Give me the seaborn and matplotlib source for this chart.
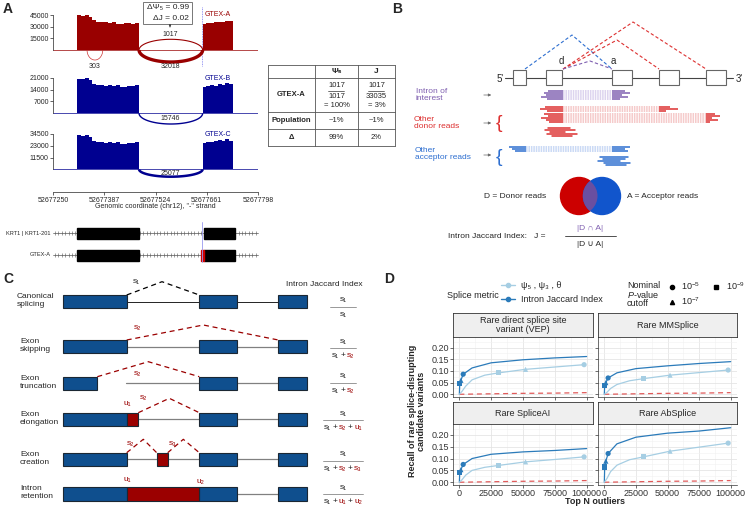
import numpy as np
import pandas as pd
import matplotlib
matplotlib.use("Agg")
import matplotlib.pyplot as plt
import seaborn as sns
from matplotlib.patches import Rectangle, Circle
from matplotlib.lines import Line2D

sns.set_theme(style="ticks")
plt.rcParams["font.family"] = ["Liberation Sans", "DejaVu Sans"]
plt.rcParams["mathtext.fontset"] = "custom"
plt.rcParams["mathtext.rm"] = "Liberation Sans"
plt.rcParams["mathtext.it"] = "Liberation Sans:italic"

# ---------------- data: panel A (sashimi of KRT1) ----------------
genome_ticks = [52677250, 52677387, 52677524, 52677661, 52677798]
exon1 = (52677314, 52677480)
exon2 = (52677650, 52677731)
cov_a_ex1 = [44500, 44000, 44500, 43000, 38000, 36000, 35500, 36000,
             35000, 36000, 34000, 33500, 34500, 35000, 33500, 34500]
cov_a_ex2 = [33500, 35000, 34500, 35500, 36000, 35500, 37500, 37000]
cov_b_ex1 = [20500, 20300, 20600, 19800, 17000, 16500, 16800, 16300,
             16800, 16200, 16600, 15800, 15600, 16200, 16000, 16500]
cov_b_ex2 = [15500, 16000, 16500, 16000, 17000, 16800, 18000, 17500]
cov_c_ex1 = [33500, 33000, 33800, 32000, 27500, 26500, 27000, 26000,
             26800, 25800, 26500, 25000, 24800, 25500, 26000, 27000]
cov_c_ex2 = [26000, 26500, 27000, 27500, 28500, 28000, 29500, 28000]
ticks_a = [15000, 30000, 45000]
ticks_b = [7000, 14000, 21000]
ticks_c = [11500, 23000, 34500]
junction_small = (52677341, 52677383)

# ---------------- data: panel D (recall curves) ----------------
facet_names = ["Rare direct splice site\nvariant (VEP)", "Rare MMSplice",
               "Rare SpliceAI", "Rare AbSplice"]
n_jaccard = [0, 300, 1200, 3000, 10000, 25000, 50000, 75000, 100000]
n_psi = [0, 2000, 5000, 10000, 20000, 31000, 52000, 75000, 98000]
jaccard_vep = [0, 0.045, 0.060, 0.086, 0.113, 0.135, 0.148, 0.156, 0.162]
jaccard_mmsplice = [0, 0.038, 0.050, 0.070, 0.092, 0.110, 0.122, 0.132, 0.140]
jaccard_spliceai = [0, 0.042, 0.053, 0.075, 0.100, 0.118, 0.128, 0.134, 0.142]
jaccard_absplice = [0, 0.064, 0.089, 0.121, 0.162, 0.190, 0.207, 0.216, 0.230]
psi_vep = [0, 0.012, 0.035, 0.062, 0.082, 0.092, 0.107, 0.117, 0.127]
psi_mmsplice = [0, 0.008, 0.025, 0.042, 0.058, 0.067, 0.082, 0.093, 0.104]
psi_spliceai = [0, 0.010, 0.030, 0.050, 0.063, 0.071, 0.086, 0.096, 0.107]
psi_absplice = [0, 0.015, 0.045, 0.072, 0.095, 0.107, 0.131, 0.148, 0.165]
n_background = [0, 25000, 50000, 75000, 100000]
recall_background = [0.0, 0.002, 0.004, 0.005, 0.007]
cutoffs = ["1e-9", "1e-7", "1e-5"]
jaccard_cut_idx = [1, 2, 3]
psi_cut_idx = [5, 6, 8]

W, H = 748, 508
fig = plt.figure(figsize=(W / 100, H / 100), dpi=100)


def pax(x0, y0, x1, y1):
    return fig.add_axes([x0 / W, 1 - y1 / H, (x1 - x0) / W, (y1 - y0) / H])


def T(x, y, s, **kw):
    kw.setdefault("ha", "center")
    kw.setdefault("va", "center")
    return fig.text(x / W, 1 - y / H, s, **kw)


def pieces(xc, y, parts, size):
    # text made of coloured bits, centred on xc
    r = fig.canvas.get_renderer()
    objs = [T(0, y, s, color=c, fontsize=size, ha="left") for s, c in parts]
    ws = [o.get_window_extent(r).width for o in objs]
    x = xc - (sum(ws) + 1.5 * (len(ws) - 1)) / 2
    for o, w in zip(objs, ws):
        o.set_x(x / W)
        x += w + 1.5


ov = pax(0, 0, W, H)
ov.set_xlim(0, W)
ov.set_ylim(H, 0)
ov.axis("off")

RED = "#990000"
NAVY = "#000090"

# ================= panel A =================
T(3, 9, "A", fontsize=10, fontweight="bold", ha="left")


def track(y0, y1, base_px, top_px, ticks, cov1, cov2, color):
    ax = pax(53, y0, 258, y1)
    s = ticks[-1] / (base_px - top_px)
    ax.set_xlim(genome_ticks[0], genome_ticks[-1])
    ax.set_ylim(-(y1 - base_px) * s, (base_px - y0) * s)
    for (a, b), cov in zip([exon1, exon2], [cov1, cov2]):
        edges = np.linspace(a, b, len(cov) + 1)
        ax.fill_between(edges, 0, list(cov) + [cov[-1]], step="post",
                        color=color, lw=0)
    ax.axhline(0, color=color, lw=0.5)
    ax.set_xticks([])
    ax.set_yticks(ticks)
    ax.tick_params(axis="y", labelsize=5, length=2, width=0.5, pad=1)
    for sp in ["top", "right", "bottom"]:
        ax.spines[sp].set_visible(False)
    ax.spines["left"].set_bounds(0, ticks[-1])
    ax.spines["left"].set_linewidth(0.5)
    ax.patch.set_alpha(0)
    return ax, s


def arc(ax, a, b, depth, lw, color):
    t = np.linspace(0, np.pi, 80)
    ax.plot((a + b) / 2 + (b - a) / 2 * np.cos(t), depth * np.sin(t),
            color=color, lw=lw, solid_capstyle="butt")


axA, sA = track(6, 70, 50, 15, ticks_a, cov_a_ex1, cov_a_ex2, RED)
arc(axA, junction_small[0], junction_small[1], -10 * sA, 0.5, "#cc3333")
arc(axA, exon1[1], exon2[0], 10.7 * sA, 0.8, RED)
arc(axA, exon1[1], exon2[0], -12 * sA, 2.4, RED)
axB, sB = track(72, 128, 113.3, 77.7, ticks_b, cov_b_ex1, cov_b_ex2, NAVY)
arc(axB, exon1[1], exon2[0], -10.7 * sB, 1.0, NAVY)
axC, sC = track(128, 182, 169.3, 134, ticks_c, cov_c_ex1, cov_c_ex2, NAVY)
arc(axC, exon1[1], exon2[0], -7.4 * sC, 1.8, NAVY)

T(95, 66, "303", fontsize=5)
T(170, 35, "1017", fontsize=5)
T(170, 66, "32018", fontsize=5)
T(170, 118, "15746", fontsize=5)
T(170, 173, "25077", fontsize=5)
T(205, 14, "GTEX-A", fontsize=5, color=RED, ha="left")
T(205, 78, "GTEX-B", fontsize=5, color=NAVY, ha="left")
T(205, 134, "GTEX-C", fontsize=5, color=NAVY, ha="left")
ov.add_patch(Rectangle((143, 2), 49, 22, fill=False, ec="#777777", lw=0.7))
T(189, 8, "ΔΨ₅ = 0.99", fontsize=6, ha="right")
T(189, 18.5, "ΔJ = 0.02", fontsize=6, ha="right")
ov.annotate("", xy=(170, 30), xytext=(170, 24),
            arrowprops=dict(arrowstyle="-|>", color="#333333", lw=0.5,
                            mutation_scale=3))
ov.plot([201.7, 201.7], [7, 66], color="#7777ee", lw=0.6, ls=(0, (1, 1)))

axG = pax(53, 170, 258, 192)
axG.set_xlim(genome_ticks[0], genome_ticks[-1])
axG.set_xticks(genome_ticks)
axG.set_xticklabels([str(g) for g in genome_ticks])
axG.set_yticks([])
for sp in ["top", "right", "left"]:
    axG.spines[sp].set_visible(False)
axG.spines["bottom"].set_linewidth(0.5)
axG.tick_params(axis="x", labelsize=5, length=2.5, width=0.5, pad=1)
axG.patch.set_alpha(0)
T(155, 206, 'Genomic coordinate (chr12), "-" strand', fontsize=5)


def gx(p):
    return 53 + (p - genome_ticks[0]) * 205 / (genome_ticks[-1] - genome_ticks[0])


for yrow, lab in [(233, "KRT1 | KRT1-201"), (255, "GTEX-A")]:
    ov.plot([53, 258], [yrow, yrow], color="#555555", lw=0.5)
    ov.plot(np.arange(55, 258, 3.4), [yrow] * len(np.arange(55, 258, 3.4)),
            ls="none", marker="|", ms=2.2, mew=0.4, color="#555555")
    for a, b in [exon1, (exon2[0] + 4, exon2[1] + 6)]:
        ov.add_patch(Rectangle((gx(a), yrow - 5.5), gx(b) - gx(a), 11,
                               color="black", zorder=3))
    T(51, yrow, lab, fontsize=4.1, ha="right")
ov.add_patch(Rectangle((201, 249.5), 2.6, 11, color="#cc0000", zorder=4))
ov.plot([201.7, 201.7], [222, 262], color="#9999ee", lw=0.6, zorder=5)

# table
tx = [268, 315, 358, 395]
ty = [65, 78, 112, 129, 146]
for y in ty:
    ov.plot([tx[0], tx[-1]], [y, y], color="#555555", lw=0.6)
for x in tx:
    ov.plot([x, x], [ty[0], ty[-1]], color="#555555", lw=0.6)
c1, c2, c3 = 291.5, 336.5, 376.5
T(c2, 71.5, "Ψ₅", fontsize=6, fontweight="bold")
T(c3, 71.5, "J", fontsize=6, fontweight="bold")
T(c1, 95, "GTEX-A", fontsize=5.5, fontweight="bold")
T(c1, 120.5, "Population", fontsize=5.5, fontweight="bold")
T(c1, 137.5, "Δ", fontsize=5.5, fontweight="bold")
for xc, num, den, pct in [(c2, "1017", "1017", "= 100%"), (c3, "1017", "33035", "= 3%")]:
    T(xc, 85.5, num, fontsize=5.5)
    ov.plot([xc - 8, xc + 8], [90.5, 90.5], color="#333333", lw=0.5)
    T(xc, 96, den, fontsize=5.5)
    T(xc, 105.5, pct, fontsize=5.5)
T(c2, 120.5, "~1%", fontsize=5.5)
T(c3, 120.5, "~1%", fontsize=5.5)
T(c2, 137.5, "99%", fontsize=5.5)
T(c3, 137.5, "2%", fontsize=5.5)

# ================= panel B =================
T(392, 9, "B", fontsize=10, fontweight="bold", ha="left")
PUR, PUR_L = "#7f5fb0", "#d3c8ea"
BRD, BRD_L = "#dd3030", "#f3bcbc"
BBL, BBL_L = "#2e6fd0", "#bcd0f2"
ov.plot([505, 733], [78, 78], color="#444444", lw=0.8)
for a, b in [(513, 526), (546, 562), (612, 632), (659, 679), (706, 726)]:
    ov.add_patch(Rectangle((a, 70), b - a, 15, fc="white", ec="#666666", lw=0.8, zorder=3))
T(504, 79, "5'", fontsize=7, ha="right")
T(736, 79, "3'", fontsize=7, ha="left")
T(561, 61, "d", fontsize=7)
T(613, 61, "a", fontsize=7)
dash = (0, (3, 2))
ov.plot([525, 572, 612], [69, 35, 69], color=BBL, lw=0.8, ls=dash)
ov.plot([563, 633, 706], [69, 22, 69], color=BRD, lw=0.8, ls=dash)
ov.plot([563, 617, 659], [69, 40, 69], color=BRD, lw=0.8, ls=dash)
ov.plot([563, 590, 612], [69, 61, 69], color=PUR, lw=0.8, ls=dash)

T(416, 95, "Intron of\ninterest", fontsize=6, color=PUR, ha="left", linespacing=1.15)
T(414, 123, "Other\ndonor reads", fontsize=6, color=BRD, ha="left", linespacing=1.15)
T(415, 154, "Other\nacceptor reads", fontsize=6, color=BBL, ha="left", linespacing=1.15)
for y in [95, 123, 155]:
    ov.annotate("", xy=(494, y), xytext=(481, y),
                arrowprops=dict(arrowstyle="-|>", color="#666666", lw=0.5, mutation_scale=4))
T(499, 123, "{", fontsize=14, color=BRD)
T(499, 157, "{", fontsize=14, color=BBL)


def read(y, x0, g0, g1, x1, dark, light):
    ov.plot([x0, g0], [y, y], color=dark, lw=1.1, solid_capstyle="butt")
    ov.plot([g0, g1], [y, y], color=light, lw=1.1, ls=(0, (1, 0.6)))
    ov.plot([g1, x1], [y, y], color=dark, lw=1.1, solid_capstyle="butt")


for y, s0, e1 in zip([91, 93, 95, 97, 99], [548, 544, 546, 541, 547], [625, 630, 622, 628, 620]):
    read(y, s0, 563, 612, e1, PUR, PUR_L)
for y, s0, e1 in zip([107, 109, 111], [545, 540, 547], [670, 678, 666]):
    read(y, s0, 563, 659, e1, BRD, BRD_L)
for y, s0, e1 in zip([114, 116, 118, 120, 122], [544, 548, 541, 546, 549], [715, 720, 712, 718, 710]):
    read(y, s0, 563, 706, e1, BRD, BRD_L)
for y, a, b in zip([128, 130, 132, 134, 136], [548, 545, 550, 547, 552], [570, 575, 565, 577, 572]):
    ov.plot([a, b], [y, y], color=BRD, lw=1.1)
for y, s0, e1 in zip([147, 149, 151], [509, 512, 515], [630, 625, 628]):
    read(y, s0, 526, 612, e1, BBL, BBL_L)
for y, a, b in zip([157, 159, 161, 163, 165], [600, 603, 598, 604, 606], [628, 625, 620, 630, 626]):
    ov.plot([a, b], [y, y], color=BBL, lw=1.1)

red_c = Circle((579, 196), 18.5, color="#cc0000", zorder=3)
blue_c = Circle((602, 196), 18.5, color="#1155cc", zorder=3)
ov.add_patch(red_c)
ov.add_patch(blue_c)
lens = Circle((602, 196), 18.5, color="#6a4fa0", zorder=4)
ov.add_patch(lens)
lens.set_clip_path(red_c)
T(484, 197, "D = Donor reads", fontsize=6, ha="left")
T(627, 197, "A = Acceptor reads", fontsize=6, ha="left")
T(448, 236, "Intron Jaccard Index:   J =", fontsize=6, ha="left")
T(590, 228, "|D ∩ A|", fontsize=6, color=PUR)
ov.plot([565, 616], [236, 236], color="#333333", lw=0.6)
T(590, 244, "|D ∪ A|", fontsize=6)

# ================= panel C =================
T(3, 279, "C", fontsize=10, fontweight="bold", ha="left")
T(324, 285, "Intron Jaccard Index", fontsize=6)
EXB, EXE, CRED = "#0f4f8e", "#1b2733", "#9b0000"
row_top = [295, 340, 376.7, 412.7, 452.7, 487.3]
row_lab = ["Canonical\nsplicing", "Exon\nskipping", "Exon\ntruncation",
           "Exon\nelongation", "Exon\ncreation", "Intron\nretention"]
for i, (yt, lab) in enumerate(zip(row_top, row_lab)):
    yc = yt + 6.7
    ov.plot([126, 279], [yc, yc], color="black" if i == 0 else "#808080", lw=0.6 if i == 0 else 0.9)
    x_first = 97.3 if i == 2 else 126.7
    for a, b in [(63.3, x_first), (199.3, 236.7), (278.3, 306.7)]:
        ov.add_patch(Rectangle((a, yt), b - a, 13.3, fc=EXB, ec=EXE, lw=0.8, zorder=3))
    T(17 if i == 0 else 20, yc - 1, lab, fontsize=6, ha="left", linespacing=1.2)
ov.add_patch(Rectangle((126.7, 412.7), 11.6, 13.3, fc=CRED, ec=EXE, lw=0.8, zorder=4))
ov.add_patch(Rectangle((156.7, 452.7), 11, 13.3, fc=CRED, ec=EXE, lw=0.8, zorder=4))
ov.add_patch(Rectangle((126.7, 487.3), 72.6, 13.3, fc=CRED, ec=EXE, lw=0.8, zorder=4))
cd = (0, (4, 3))
ov.plot([126.7, 162, 199.3], [295, 281.7, 295], color="black", lw=0.9, ls=cd)
ov.plot([126.7, 203.3, 278.3], [340, 325, 340], color=CRED, lw=0.9, ls=cd)
ov.plot([97.3, 148.3, 199.3], [376.7, 361.7, 376.7], color=CRED, lw=0.9, ls=cd)
ov.plot([138.3, 169.3, 199.3], [412.7, 398.3, 412.7], color=CRED, lw=0.9, ls=cd)
ov.plot([126.7, 143.3, 156.7], [452.7, 439.3, 452.7], color=CRED, lw=0.9, ls=cd)
ov.plot([167.7, 183.3, 199.3], [452.7, 439.3, 452.7], color=CRED, lw=0.9, ls=cd)
T(136, 281, "s₁", fontsize=6)
for x, y, s in [(137, 328, "s₂"), (137, 373, "s₂"), (127, 404, "u₁"), (143, 398, "s₂"),
                (130, 443, "s₂"), (173, 443, "s₃"), (127, 480, "u₁"), (200, 481, "u₂")]:
    T(x, y, s, fontsize=6, color=CRED)

K = "#222222"
frac_rows = [
    (307, [("s₁", K)], 26),
    (348, [("s₁", K), ("+", K), ("s₂", CRED)], 26),
    (383, [("s₁", K), ("+", K), ("s₂", CRED)], 26),
    (420, [("s₁", K), ("+", K), ("s₂", CRED), ("+", K), ("u₁", CRED)], 40),
    (461, [("s₁", K), ("+", K), ("s₂", CRED), ("+", K), ("s₃", CRED)], 40),
    (494, [("s₁", K), ("+", K), ("u₁", CRED), ("+", K), ("u₂", CRED)], 40),
]
for yc, den, wline in frac_rows:
    T(343, yc - 7, "s₁", fontsize=6, color=K)
    ov.plot([343 - wline / 2, 343 + wline / 2], [yc, yc], color="#888888", lw=0.6)
    pieces(343, yc + 7.5, den, 6)

# ================= panel D =================
T(384, 279, "D", fontsize=10, fontweight="bold", ha="left")
LIGHT, DARK, BGRED = "#a6cee3", "#2b7bba", "#e05a5a"
pal = {"psi": LIGHT, "jaccard": DARK}
mk = {"1e-9": "s", "1e-7": "^", "1e-5": "o"}

curve_rows, point_rows = [], []
for name, jac, psi in zip(facet_names,
                          [jaccard_vep, jaccard_mmsplice, jaccard_spliceai, jaccard_absplice],
                          [psi_vep, psi_mmsplice, psi_spliceai, psi_absplice]):
    for n, r in zip(n_jaccard, jac):
        curve_rows.append((name, "jaccard", n, r))
    for n, r in zip(n_psi, psi):
        curve_rows.append((name, "psi", n, r))
    for c, i in zip(cutoffs, jaccard_cut_idx):
        point_rows.append((name, "jaccard", c, n_jaccard[i], jac[i]))
    for c, i in zip(cutoffs, psi_cut_idx):
        point_rows.append((name, "psi", c, n_psi[i], psi[i]))
curves = pd.DataFrame(curve_rows, columns=["facet", "metric", "N", "recall"])
points = pd.DataFrame(point_rows, columns=["facet", "metric", "cutoff", "N", "recall"])
background = pd.DataFrame({"N": n_background, "recall": recall_background})

boxes = [(453, 337, 593, 397), (598, 337, 737, 397), (453, 424, 593, 485), (598, 424, 737, 485)]
strips = [(453, 313, 593, 337), (598, 313, 737, 337), (453, 402, 593, 424), (598, 402, 737, 424)]
for k, (name, box, st) in enumerate(zip(facet_names, boxes, strips)):
    ax = pax(*box)
    ax.set_axisbelow(True)
    sns.lineplot(data=background, x="N", y="recall", color=BGRED, lw=0.9,
                 ls=(0, (4, 3)), ax=ax)
    sns.lineplot(data=curves[curves.facet == name], x="N", y="recall", hue="metric",
                 palette=pal, estimator=None, lw=0.9, ax=ax, legend=False)
    sns.scatterplot(data=points[points.facet == name], x="N", y="recall", hue="metric",
                    style="cutoff", markers=mk, palette=pal, s=14, linewidth=0,
                    ax=ax, legend=False, zorder=4)
    ax.set_xlim(-5000, 105000)
    ax.set_ylim(-0.0117, 0.2457)
    ax.set_xticks([0, 25000, 50000, 75000, 100000])
    ax.set_xticks([12500, 37500, 62500, 87500], minor=True)
    ax.set_yticks([0, 0.05, 0.10, 0.15, 0.20])
    ax.set_yticks([0.025, 0.075, 0.125, 0.175, 0.225], minor=True)
    ax.grid(True, which="major", color="#e3e3e3", lw=0.55)
    ax.grid(True, which="minor", color="#f1f1f1", lw=0.4)
    ax.tick_params(which="minor", length=0)
    ax.tick_params(which="major", labelsize=6.5, length=2, width=0.5, pad=1,
                   labelcolor="#333333", color="#333333")
    ax.set_xticklabels(["0", "25000", "50000", "75000", "100000"])
    ax.set_yticklabels(["0.00", "0.05", "0.10", "0.15", "0.20"])
    if k < 2:
        ax.tick_params(axis="x", labelbottom=False)
    if k % 2 == 1:
        ax.tick_params(axis="y", labelleft=False)
    for sp in ["top", "right"]:
        ax.spines[sp].set_visible(False)
    for sp in ["left", "bottom"]:
        ax.spines[sp].set_linewidth(0.5)
        ax.spines[sp].set_color("#333333")
    ax.set_xlabel("")
    ax.set_ylabel("")
    sa = pax(*st)
    sa.set_facecolor("#efefef")
    sa.set_xticks([])
    sa.set_yticks([])
    for sp in sa.spines.values():
        sp.set_color("#333333")
        sp.set_linewidth(0.6)
    sa.text(0.5, 0.5, name, ha="center", va="center", fontsize=6.5,
            transform=sa.transAxes, linespacing=1.1)

T(417, 411, "Recall of rare splice-disrupting\ncandidate variants", rotation=90,
  fontsize=6.5, fontweight="bold", linespacing=1.05)
T(595, 501, "Top N outliers", fontsize=6.5, fontweight="bold")

T(447, 296, "Splice metric", fontsize=6.5, ha="left")
fig.legend(handles=[Line2D([], [], color=LIGHT, marker="o", ms=3, lw=1),
                    Line2D([], [], color=DARK, marker="o", ms=3, lw=1)],
           labels=["ψ₅ , ψ₃ , θ", "Intron Jaccard Index"], loc="upper left",
           bbox_to_anchor=(501 / W, 1 - 281 / H), frameon=False, fontsize=6.5,
           handlelength=1.6, handletextpad=0.6, labelspacing=0.55,
           borderpad=0, borderaxespad=0)
T(627, 286, "Nominal", fontsize=6.5, ha="left")
T(627, 295, "$\\mathit{P}$-value", fontsize=6.5, ha="left")
T(627, 304, "cutoff", fontsize=6.5, ha="left")
fig.legend(handles=[Line2D([], [], color="black", marker="o", ms=3, lw=0),
                    Line2D([], [], color="black", marker="^", ms=3, lw=0),
                    Line2D([], [], color="black", marker="s", ms=3, lw=0)],
           labels=["$10^{-5}$", "$10^{-7}$", "$10^{-9}$"], ncol=2, loc="upper left",
           bbox_to_anchor=(667 / W, 1 - 280 / H), frameon=False, fontsize=6.5,
           handlelength=1.0, handletextpad=0.6, labelspacing=0.45,
           columnspacing=1.2, borderpad=0, borderaxespad=0)

fig.savefig("out.png", dpi=100)
